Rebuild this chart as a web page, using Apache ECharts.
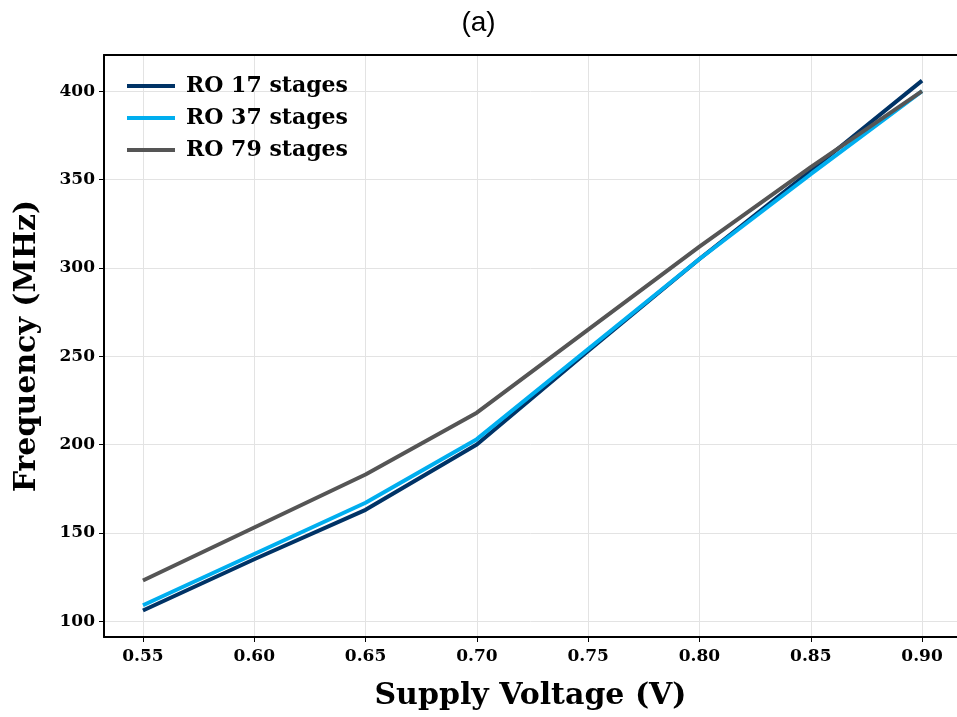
<!DOCTYPE html>
<html><head><meta charset="utf-8">
<script src="https://cdn.jsdelivr.net/npm/echarts@6/dist/echarts.min.js"></script>
<style>html,body{margin:0;padding:0;background:#fff;overflow:hidden}#c{width:957px;height:717px}</style>
</head><body><div id="c"></div>
<script>
const voltages = [0.55, 0.60, 0.65, 0.70, 0.75, 0.80, 0.85, 0.90];
const ro17 = [106, 135, 163, 200, 253, 305, 355, 406];
const ro37 = [109, 138, 167, 203, 254, 305, 353, 400];
const ro79 = [123, 153, 183, 218, 265, 312, 357, 400];
const xTicks = [0.55, 0.60, 0.65, 0.70, 0.75, 0.80, 0.85, 0.90];
const yTicks = [100, 150, 200, 250, 300, 350, 400];
const seriesNames = ['RO 17 stages', 'RO 37 stages', 'RO 79 stages'];
const colors = ['#003366', '#00AEEF', '#555555'];

const serif = 'DejaVu Serif';
const chart = echarts.init(document.getElementById('c'));
const mk = (name, vals, color) => ({
  name, type: 'line', data: voltages.map((v, i) => [v, vals[i]]),
  showSymbol: false, symbol: 'none',
  lineStyle: { color, width: 4 }, itemStyle: { color }
});
const XMIN = 0.5325, XMAX = 0.9157;
chart.setOption({
  animation: false,
  title: { text: '(a)', left: 'center', top: 4,
    textStyle: { fontFamily: 'Liberation Sans', fontWeight: 'normal', fontSize: 28, color: '#000' } },
  grid: { left: 104, right: 0, top: 55, bottom: 80 },
  legend: {
    left: 122, top: 70, orient: 'vertical', itemGap: 10, itemWidth: 48, itemHeight: 4,
    icon: 'rect',
    textStyle: { fontFamily: serif, fontWeight: 'bold', fontSize: 22, color: '#000', padding: [0, 0, 0, 6] },
    data: seriesNames
  },
  xAxis: [{
    type: 'value', min: XMIN, max: XMAX,
    name: 'Supply Voltage (V)', nameLocation: 'middle', nameGap: 44,
    nameTextStyle: { fontFamily: serif, fontWeight: 'bold', fontSize: 30, color: '#000' },
    axisLine: { show: true, lineStyle: { color: '#000', width: 2 } },
    axisTick: { show: true, length: 5, lineStyle: { color: '#000', width: 1 }, customValues: xTicks },
    axisLabel: { customValues: xTicks, formatter: v => v.toFixed(2), margin: 11,
      fontFamily: serif, fontWeight: 'bold', fontSize: 17, color: '#000' },
    splitLine: { show: true, lineStyle: { color: '#e3e3e3', width: 1 } }
  }, {
    type: 'value', position: 'top', min: XMIN, max: XMAX,
    axisLine: { show: true, onZero: false, lineStyle: { color: '#000', width: 2 } },
    axisTick: { show: false }, axisLabel: { show: false }, splitLine: { show: false }
  }],
  yAxis: {
    type: 'value', min: 91, max: 420.5,
    name: 'Frequency (MHz)', nameLocation: 'middle', nameGap: 62,
    nameTextStyle: { fontFamily: serif, fontWeight: 'bold', fontSize: 30, color: '#000' },
    axisLine: { show: true, lineStyle: { color: '#000', width: 2 } },
    axisTick: { show: true, length: 5, lineStyle: { color: '#000', width: 1 }, customValues: yTicks },
    axisLabel: { customValues: yTicks, margin: 9,
      fontFamily: serif, fontWeight: 'bold', fontSize: 17, color: '#000' },
    splitLine: { show: true, lineStyle: { color: '#e3e3e3', width: 1 } }
  },
  series: [mk(seriesNames[0], ro17, colors[0]), mk(seriesNames[1], ro37, colors[1]), mk(seriesNames[2], ro79, colors[2])]
});
</script></body></html>
